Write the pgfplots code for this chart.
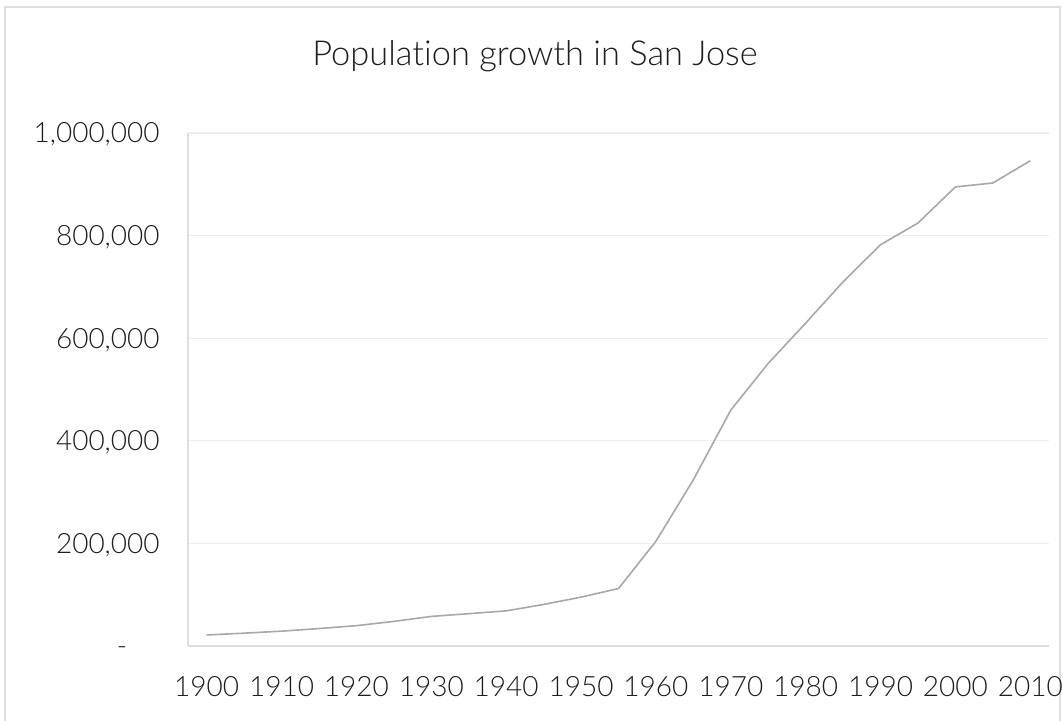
\documentclass[border=0pt]{standalone}
\usepackage{pgfplots}
\pgfplotsset{compat=1.18}
\usepackage{fontspec}
\setmainfont{Lato Light}[Ligatures=NoCommon]

\definecolor{linegray}{RGB}{168,168,168}
\definecolor{gridgray}{RGB}{238,238,238}
\definecolor{framegray}{RGB}{222,222,222}
\definecolor{textgray}{RGB}{30,30,30}

\begin{document}
\begin{tikzpicture}
% page frame
\useasboundingbox (0,0) rectangle (531.5pt,360.5pt);
\begin{scope}
  \clip (0,0) rectangle (531.5pt,360.5pt);
  \draw[framegray, line width=1pt] (2.25pt,-10pt) -- (2.25pt,356.75pt) -- (529.75pt,356.75pt) -- (529.75pt,-10pt);
\end{scope}
\begin{axis}[
  at={(94pt,37.5pt)}, anchor=south west,
  scale only axis, width=430.5pt, height=256.5pt,
  xmin=1897.5, xmax=2012.5, ymin=0, ymax=1000000,
  axis x line*=bottom, axis y line*=left,
  axis line style={framegray, line width=0.6pt, -},
  ymajorgrids, grid style={gridgray, line width=0.6pt},
  major tick length=0pt,
  scaled y ticks=false,
  xtick={1900,1910,1920,1930,1940,1950,1960,1970,1980,1990,2000,2010},
  xticklabels={1900,1910,1920,1930,1940,1950,1960,1970,1980,1990,2000,2010},
  ytick={0,200000,400000,600000,800000,1000000},
  yticklabels={{-\hphantom{00}},{200,000},{400,000},{600,000},{800,000},{1,000,000}},
  tick label style={font=\fontsize{14}{14}\selectfont, text=textgray, inner sep=0pt, text height=10pt, text depth=0pt},
  x tick label style={anchor=north, yshift=-15pt},
  y tick label style={anchor=east, xshift=-14pt},
  title={Population growth in San Jose},
  title style={at={(0.403,1.109)}, anchor=base, font=\fontsize{17.2}{17.2}\selectfont, text=textgray, inner sep=0pt},
  clip=false,
]
\addplot[linegray, line width=0.8pt, mark=none, line join=round] coordinates {
  (1900,21500) (1905,25000) (1910,28946) (1915,34000) (1920,39642)
  (1925,48000) (1930,57651) (1935,63000) (1940,68457) (1945,81000)
  (1950,95280) (1955,112000) (1960,204196) (1965,324000) (1970,459913)
  (1975,551000) (1980,629400) (1985,710000) (1990,782248) (1995,824500)
  (2000,894943) (2005,902500) (2010,945942)
};
\end{axis}
\end{tikzpicture}
\end{document}
